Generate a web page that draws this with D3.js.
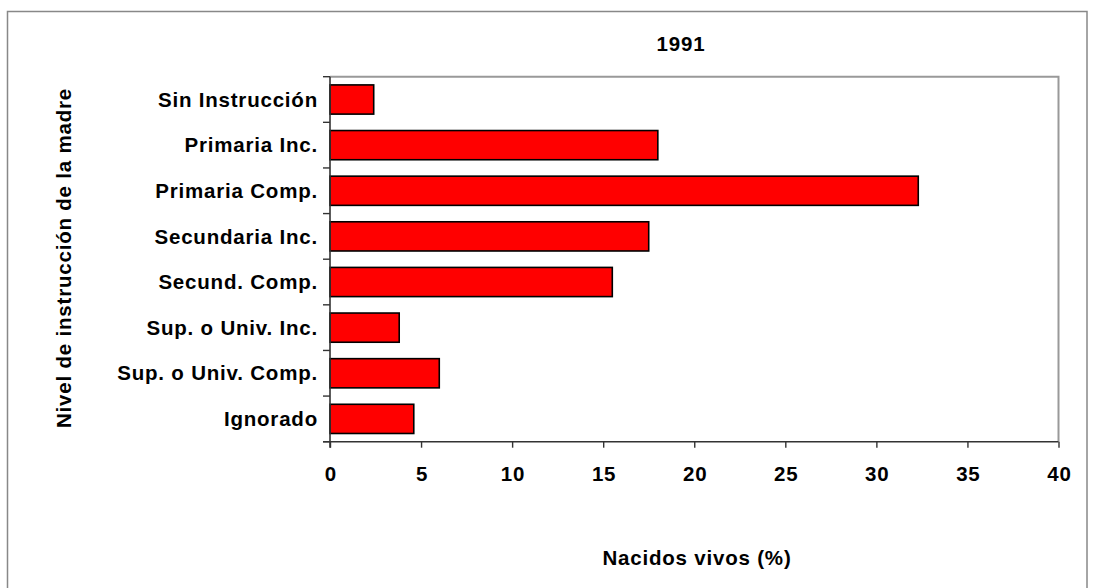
<!DOCTYPE html>
<html>
<head>
<meta charset="utf-8">
<script src="https://cdn.jsdelivr.net/npm/d3@7"></script>
<style>
  html, body { margin: 0; padding: 0; background: #fff; }
  svg text { font-family: "Liberation Sans", Arial, sans-serif; font-weight: bold; fill: #000; }
</style>
</head>
<body>
<svg id="chart" width="1094" height="588"></svg>
<script>
const categories = ["Sin Instrucción", "Primaria Inc.", "Primaria Comp.", "Secundaria Inc.",
  "Secund. Comp.", "Sup. o Univ. Inc.", "Sup. o Univ. Comp.", "Ignorado"];
const values = [2.4, 18.0, 32.3, 17.5, 15.5, 3.8, 6.0, 4.6];
const xTicks = [0, 5, 10, 15, 20, 25, 30, 35, 40];
const chartTitle = "1991";
const xTitle = "Nacidos vivos (%)";
const yTitle = "Nivel de instrucción de la madre";

(function () {
const svg = d3.select("#chart");
const pL = 330, pR = 1058.5, pT = 76.7, pB = 441.7;
const fs = 20.5, ls = 0.8;

// outer frame
svg.append("rect").attr("x", 7.5).attr("y", 11.5).attr("width", 1079.5).attr("height", 600)
  .attr("fill", "none").attr("stroke", "#888").attr("stroke-width", 1.5);

const x = d3.scaleLinear().domain([0, 40]).range([pL, pR]);
const y = d3.scaleBand().domain(categories).range([pT, pB]).paddingInner(0.36).paddingOuter(0.18);

// plot frame top/right
svg.append("path").attr("d", `M${pL},${pT}H${pR}V${pB}`)
  .attr("fill", "none").attr("stroke", "#999").attr("stroke-width", 2);

// bars
svg.append("g").selectAll("rect").data(values).join("rect")
  .attr("x", x(0))
  .attr("y", (d, i) => y(categories[i]))
  .attr("width", d => x(d) - x(0))
  .attr("height", y.bandwidth())
  .attr("fill", "#ff0000").attr("stroke", "#000").attr("stroke-width", 1.6);

// x axis
const xAxis = d3.axisBottom(x).tickValues(xTicks).tickSize(6).tickSizeOuter(0).tickFormat(d3.format("d"));
const gx = svg.append("g").attr("transform", `translate(0,${pB})`).call(xAxis);
gx.select(".domain").attr("stroke", "#333").attr("stroke-width", 1.6).attr("d", `M${pL - 7},0H${pR}`);
gx.selectAll(".tick line").attr("stroke", "#333").attr("stroke-width", 1.4);
gx.selectAll(".tick text").attr("y", 39.5).attr("dy", 0).attr("font-size", fs)
  .style("letter-spacing", ls + "px").attr("dx", ls / 2)
  .attr("font-family", "Liberation Sans, Arial, sans-serif").attr("font-weight", "bold").attr("fill", "#000");

// y axis: ticks at category boundaries
const boundaries = d3.range(categories.length + 1).map(i => pT + i * (pB - pT) / categories.length);
const gy = svg.append("g");
gy.append("line").attr("x1", pL).attr("x2", pL).attr("y1", pT).attr("y2", pB + 6)
  .attr("stroke", "#333").attr("stroke-width", 1.6);
gy.selectAll("line.tk").data(boundaries).join("line").attr("class", "tk")
  .attr("x1", pL - 7).attr("x2", pL).attr("y1", d => d).attr("y2", d => d)
  .attr("stroke", "#333").attr("stroke-width", 1.4);
gy.selectAll("text").data(categories).join("text")
  .attr("x", pL - 12)
  .attr("y", d => y(d) + y.bandwidth() / 2)
  .attr("dy", "0.35em")
  .attr("text-anchor", "end")
  .attr("font-size", fs)
  .style("letter-spacing", ls + "px")
  .text(d => d);

// titles
svg.append("text").attr("x", 681).attr("y", 51).attr("text-anchor", "middle")
  .attr("font-size", fs).style("letter-spacing", ls + "px").text(chartTitle);
svg.append("text").attr("x", 697).attr("y", 565).attr("text-anchor", "middle")
  .attr("font-size", fs).style("letter-spacing", ls + "px").text(xTitle);
svg.append("text").attr("transform", "translate(70.7,258) rotate(-90)").attr("text-anchor", "middle")
  .attr("font-size", fs).style("letter-spacing", ls + "px").text(yTitle);
})();
</script>
</body>
</html>
